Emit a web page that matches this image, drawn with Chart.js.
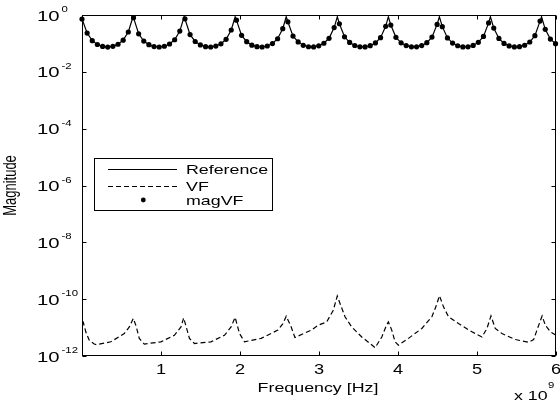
<!DOCTYPE html>
<html>
<head>
<meta charset="utf-8">
<script src="https://cdn.jsdelivr.net/npm/chart.js@4.4.1/dist/chart.umd.min.js"></script>
<style>
  html, body { margin: 0; padding: 0; background: #fff; }
  #wrap { width: 560px; height: 403px; }
</style>
</head>
<body>
<div id="wrap"><canvas id="magChart" width="560" height="403"></canvas></div>
<script>
// Frequency in GHz (axis shows x 10^9)
const magVFFreq = [
  0, 0.065, 0.130, 0.195, 0.261, 0.326, 0.391, 0.456, 0.521, 0.586,
  0.652, 0.717, 0.782, 0.847, 0.912, 0.977, 1.042, 1.108, 1.173, 1.238,
  1.303, 1.368, 1.433, 1.498, 1.564, 1.629, 1.694, 1.759, 1.824, 1.889,
  1.955, 2.020, 2.085, 2.150, 2.215, 2.280, 2.345, 2.411, 2.476, 2.541,
  2.606, 2.671, 2.736, 2.801, 2.867, 2.932, 2.997, 3.062, 3.127, 3.192,
  3.258, 3.323, 3.388, 3.453, 3.518, 3.583, 3.648, 3.714, 3.779, 3.844,
  3.909, 3.974, 4.039, 4.104, 4.170, 4.235, 4.300, 4.365, 4.430, 4.495,
  4.561, 4.626, 4.691, 4.756, 4.821, 4.886, 4.951, 5.017, 5.082, 5.147,
  5.212, 5.277, 5.342, 5.407, 5.473, 5.538, 5.603, 5.668, 5.733, 5.798,
  5.864, 5.929, 5.994
];
const magVFMag = [
  0.72, 0.232, 0.125, 0.0915, 0.0782, 0.0746, 0.0788, 0.0933, 0.130, 0.252,
  0.803, 0.218, 0.121, 0.0900, 0.0776, 0.0747, 0.0795, 0.0952, 0.1345, 0.272,
  0.736, 0.204, 0.117, 0.0885, 0.0771, 0.0747, 0.0803, 0.0970, 0.1395, 0.296,
  0.660, 0.192, 0.115, 0.0870, 0.0767, 0.0749, 0.0812, 0.0989, 0.146, 0.330,
  0.576, 0.181, 0.113, 0.0859, 0.0762, 0.0751, 0.0821, 0.1014, 0.1515, 0.360,
  0.492, 0.171, 0.108, 0.0846, 0.0758, 0.0754, 0.0830, 0.1041, 0.159, 0.400,
  0.441, 0.164, 0.105, 0.0837, 0.0756, 0.0756, 0.0840, 0.1064, 0.1665, 0.466,
  0.389, 0.156, 0.103, 0.0827, 0.0752, 0.0759, 0.0851, 0.1091, 0.176, 0.526,
  0.347, 0.1495, 0.100, 0.0817, 0.0750, 0.0765, 0.0862, 0.112, 0.1865, 0.610,
  0.314, 0.142, 0.098
];

// resonance peaks of the reference response
const refPeakFreq = [0.646, 1.293, 1.939, 2.585, 3.232, 3.878, 4.524, 5.170, 5.817];
const refPeakMag  = [0.87, 0.87, 0.87, 0.87, 0.87, 0.87, 0.87, 0.87, 0.87];

const vfFreq = [
  0, 0.015, 0.048, 0.091, 0.155, 0.184, 0.365, 0.535, 0.599, 0.649,
  0.682, 0.725, 0.789, 0.999, 1.169, 1.253, 1.287, 1.360, 1.423, 1.633,
  1.803, 1.887, 1.938, 1.994, 2.057, 2.268, 2.479, 2.543, 2.585, 2.648,
  2.695, 2.902, 2.987, 3.097, 3.181, 3.231, 3.266, 3.329, 3.414, 3.541,
  3.646, 3.710, 3.795, 3.845, 3.878, 3.921, 3.963, 4.005, 4.132, 4.302,
  4.429, 4.479, 4.525, 4.576, 4.639, 4.766, 4.936, 5.063, 5.126, 5.177,
  5.231, 5.316, 5.485, 5.654, 5.717, 5.773, 5.824, 5.866, 5.929, 6.0
];
const vfMag = [
  1.66e-11, 1.58e-11, 7.08e-12, 3.63e-12, 2.63e-12, 2.51e-12, 3.16e-12, 6.17e-12, 1.05e-11, 2.09e-11,
  1.20e-11, 4.17e-12, 2.63e-12, 3.16e-12, 5.37e-12, 1.05e-11, 2.19e-11, 4.17e-12, 2.75e-12, 3.16e-12,
  5.37e-12, 1.05e-11, 2.29e-11, 6.17e-12, 3.16e-12, 4.17e-12, 8.13e-12, 1.38e-11, 2.51e-11, 1.05e-11,
  4.47e-12, 8.13e-12, 1.20e-11, 1.58e-11, 4.07e-11, 1.29e-10, 7.08e-11, 2.40e-11, 1.05e-11, 4.68e-12,
  2.75e-12, 1.95e-12, 4.68e-12, 1.05e-11, 1.58e-11, 8.13e-12, 3.16e-12, 2.40e-12, 4.17e-12, 9.33e-12,
  2.40e-11, 5.37e-11, 1.32e-10, 5.37e-11, 2.40e-11, 1.38e-11, 7.08e-12, 4.68e-12, 9.33e-12, 2.57e-11,
  9.33e-12, 6.17e-12, 3.80e-12, 3.02e-12, 3.80e-12, 1.05e-11, 2.57e-11, 1.20e-11, 7.08e-12, 5.37e-12
];

const xTicks = [1, 2, 3, 4, 5, 6];
const yTickExps = [0, -2, -4, -6, -8, -10, -12];
const legendLabels = ['Reference', 'VF', 'magVF'];

const FONT = '"Liberation Sans", Arial, Helvetica, sans-serif';

function toPoints(xs, ys) {
  return xs.map((x, i) => ({ x: x, y: ys[i] }));
}

// reference = sampled points plus the peak tops, sorted by frequency
const refData = toPoints(magVFFreq, magVFMag)
  .concat(toPoints(refPeakFreq, refPeakMag))
  .sort((a, b) => a.x - b.x);

function drawText(ctx, text, x, y, size, stretch, align) {
  ctx.save();
  ctx.font = size + 'px ' + FONT;
  ctx.fillStyle = '#000';
  ctx.textAlign = align || 'left';
  ctx.textBaseline = 'alphabetic';
  ctx.translate(x, y);
  ctx.scale(stretch, 1);
  ctx.fillText(text, 0, 0);
  ctx.restore();
}

// MATLAB style frame, inward ticks, labels and legend
const matlabFrame = {
  id: 'matlabFrame',
  afterDraw(chart) {
    const ctx = chart.ctx;
    const area = chart.chartArea;
    const xs = chart.scales.x;
    const ys = chart.scales.y;
    const L = Math.round(area.left) + 0.5;
    const R = Math.round(area.right) - 0.5;
    const T = Math.round(area.top) + 0.5;
    const B = Math.round(area.bottom) - 0.5;

    ctx.save();
    ctx.strokeStyle = '#000';
    ctx.lineWidth = 1;
    ctx.strokeRect(L, T, R - L, B - T);

    ctx.beginPath();
    xTicks.forEach(v => {
      const px = Math.round(xs.getPixelForValue(v)) + 0.5;
      ctx.moveTo(px, B); ctx.lineTo(px, B - 4);
      ctx.moveTo(px, T); ctx.lineTo(px, T + 4);
    });
    yTickExps.forEach(e => {
      const py = Math.round(ys.getPixelForValue(Math.pow(10, e))) + 0.5;
      ctx.moveTo(L, py); ctx.lineTo(L + 4, py);
      ctx.moveTo(R, py); ctx.lineTo(R - 4, py);
    });
    ctx.stroke();

    // tick labels
    xTicks.forEach(v => {
      drawText(ctx, String(v), xs.getPixelForValue(v), area.bottom + 18, 14, 1.3, 'center');
    });
    yTickExps.forEach(e => {
      const py = ys.getPixelForValue(Math.pow(10, e));
      drawText(ctx, '10', 37, py + 5.5, 14, 1.45, 'left');
      drawText(ctx, String(e), 61.5, py - 3, 9.5, 1.2, 'left');
    });

    // axis titles
    drawText(ctx, 'Frequency [Hz]', (area.left + area.right) / 2 - 1, 391.5, 13, 1.37, 'center');
    drawText(ctx, 'x 10', 514, 400, 13, 1.37, 'left');
    drawText(ctx, '9', 548, 388, 9.5, 1.2, 'left');

    ctx.save();
    ctx.translate(16, (area.top + area.bottom) / 2);
    ctx.scale(1.37, 1);
    ctx.rotate(-Math.PI / 2);
    ctx.font = '13px ' + FONT;
    ctx.fillStyle = '#000';
    ctx.textAlign = 'center';
    ctx.textBaseline = 'alphabetic';
    ctx.fillText('Magnitude', 0, 0);
    ctx.restore();

    // legend
    ctx.fillStyle = '#fff';
    ctx.fillRect(94.5, 158.5, 178, 52);
    ctx.strokeStyle = '#000';
    ctx.strokeRect(94.5, 158.5, 178, 52);

    ctx.beginPath();
    ctx.moveTo(108, 169.5); ctx.lineTo(177, 169.5);
    ctx.stroke();
    ctx.setLineDash([5, 3]);
    ctx.beginPath();
    ctx.moveTo(108, 186.5); ctx.lineTo(177, 186.5);
    ctx.stroke();
    ctx.setLineDash([]);
    ctx.fillStyle = '#000';
    ctx.beginPath();
    ctx.arc(143.3, 200, 2.4, 0, Math.PI * 2);
    ctx.fill();

    drawText(ctx, legendLabels[0], 186, 174, 13, 1.37, 'left');
    drawText(ctx, legendLabels[1], 186, 191, 13, 1.37, 'left');
    drawText(ctx, legendLabels[2], 186, 205, 13, 1.37, 'left');
    ctx.restore();
  }
};

new Chart(document.getElementById('magChart'), {
  type: 'scatter',
  data: {
    datasets: [
      {
        label: legendLabels[0],
        data: refData,
        showLine: true,
        borderColor: '#000',
        borderWidth: 1.2,
        pointRadius: 0,
        tension: 0,
        order: 3
      },
      {
        label: legendLabels[1],
        data: toPoints(vfFreq, vfMag),
        showLine: true,
        borderColor: '#000',
        borderWidth: 1.2,
        borderDash: [5, 3],
        pointRadius: 0,
        tension: 0,
        order: 2
      },
      {
        label: legendLabels[2],
        data: toPoints(magVFFreq, magVFMag),
        showLine: false,
        backgroundColor: '#000',
        borderColor: '#000',
        borderWidth: 0,
        pointRadius: 2.6,
        clip: 4,
        order: 1
      }
    ]
  },
  options: {
    responsive: false,
    animation: false,
    devicePixelRatio: 1,
    layout: { padding: { left: 0, right: 4, top: 15, bottom: 0 } },
    plugins: {
      legend: { display: false },
      tooltip: { enabled: false }
    },
    scales: {
      x: {
        type: 'linear',
        min: 0,
        max: 6,
        ticks: { display: false },
        grid: { display: false },
        border: { display: false },
        afterFit: s => { s.height = 47; }
      },
      y: {
        type: 'logarithmic',
        min: 1e-12,
        max: 1,
        ticks: { display: false },
        grid: { display: false },
        border: { display: false },
        afterFit: s => { s.width = 82; }
      }
    }
  },
  plugins: [matlabFrame]
});
</script>
</body>
</html>
